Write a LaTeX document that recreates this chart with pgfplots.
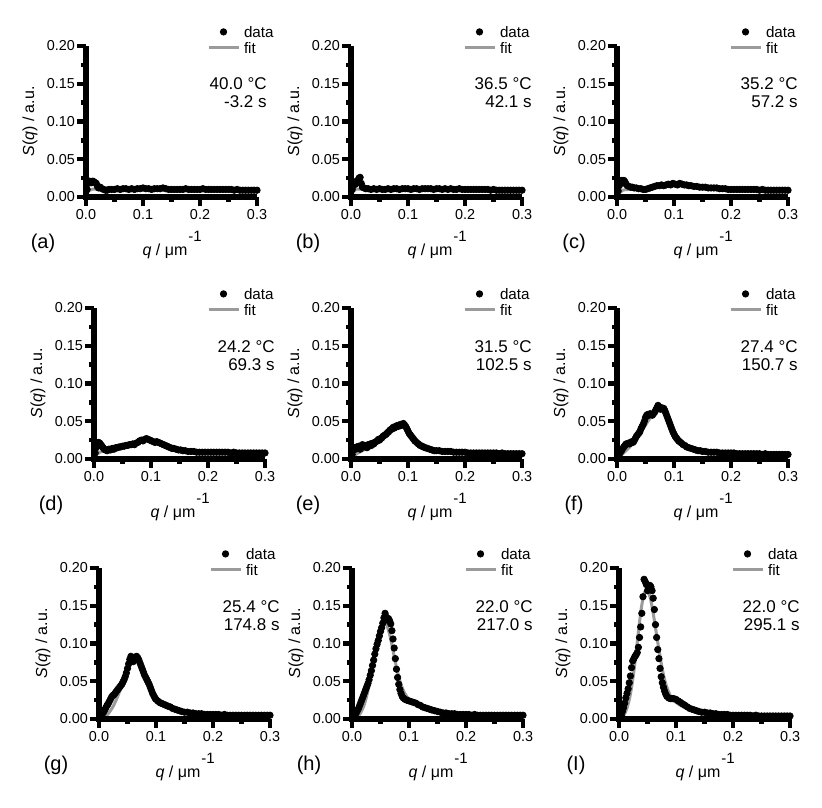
\documentclass[border=0pt]{standalone}
\usepackage{fontspec}
\setmainfont{Liberation Sans}
\usepackage{pgfplots}
\pgfplotsset{compat=1.18}
\definecolor{fitgray}{RGB}{155,155,155}
\pgfplotsset{
  sq/.style={
    scale only axis, width=85.5pt, height=75.5pt,
    xmin=0, xmax=0.3, ymin=0, ymax=0.2,
    axis x line=bottom, axis y line=left,
    axis line style={-, black},
    xtick={0,0.1,0.2,0.3}, ytick={0,0.05,0.1,0.15,0.2},
    minor x tick num=1, minor y tick num=1,
    tick align=outside, major tick length=4.5pt, minor tick length=2.5pt,
    tick style={black},
    /pgf/number format/assume math mode=true,
    tick label style={font=\fontsize{7.2}{8}\selectfont},
    xticklabel style={inner sep=1.5pt, /pgf/number format/.cd, fixed, fixed zerofill, precision=1},
    yticklabel style={inner sep=0.8pt, /pgf/number format/.cd, fixed, fixed zerofill, precision=2},
    scaled ticks=false,
    clip=false,
    reverse legend,
    legend image code/.code={\draw[mark repeat=2,mark phase=2,##1] plot coordinates {(0pt,0pt) (7.5pt,0pt) (15pt,0pt)};},
    legend style={anchor=north east,
      draw=none, fill=none, inner sep=0pt, row sep=1.5pt, column sep=1.5pt,
      font=\fontsize{7.6}{9}\selectfont,
      nodes={inner sep=0.5pt, text height=5.5pt, text depth=0pt},
      cells={anchor=west}},
  },
  fitline/.style={color=fitgray, line width=1.5pt, smooth, tension=0.5, no marks},
  datapts/.style={only marks, mark=*, mark size=1.6pt, black, mark options={draw=black, fill=black}},
  deco/.style={black, forget plot, no marks},
}
\newcommand{\axisdeco}{%
\addplot[deco, line width=3pt, line join=miter] coordinates {(0,0.2) (0,0) (0.3,0)};
\addplot[deco, xcomb, line width=2.2pt] coordinates {(-0.0165,0)(-0.0165,0.05)(-0.0165,0.1)(-0.0165,0.15)(-0.0165,0.2)};
\addplot[deco, xcomb, line width=2.2pt] coordinates {(-0.0095,0.025)(-0.0095,0.075)(-0.0095,0.125)(-0.0095,0.175)};
\addplot[deco, ycomb, line width=2.2pt] coordinates {(0,-0.0125)(0.1,-0.0125)(0.2,-0.0125)(0.3,-0.0125)};
\addplot[deco, ycomb, line width=2.2pt] coordinates {(0.05,-0.0072)(0.15,-0.0072)(0.25,-0.0072)};
}
% #1 position, #2 label, #3 temp, #4 time, #5 data, #6 fit, #7 legend xshift
\newcommand{\panel}[7]{%
\begin{axis}[sq, at={#1}, anchor=south west,
  legend style={at={([xshift=#7,yshift=10.5pt]rel axis cs:1,1)}}]
\addplot[fitline] coordinates {#6};
\addplot[datapts] coordinates {#5};
\axisdeco
\legend{fit,data}
\node[anchor=base east, font=\fontsize{8.5}{10}\selectfont, inner sep=0pt] at ([xshift=5pt,yshift=-22pt]rel axis cs:1,1) {#3};
\node[anchor=base east, font=\fontsize{8.5}{10}\selectfont, inner sep=0pt] at ([xshift=5pt,yshift=-31pt]rel axis cs:1,1) {#4};
\node[anchor=center, font=\fontsize{10}{12}\selectfont, inner sep=0pt] at ([xshift=-21.5pt,yshift=-23pt]rel axis cs:0,0) {#2};
\node[anchor=center, font=\fontsize{8}{10}\selectfont, inner sep=0pt] at ([xshift=39.5pt,yshift=-27pt]rel axis cs:0,0) {\textit{q} / μm};
\node[anchor=center, font=\fontsize{7.5}{9}\selectfont, inner sep=0pt] at ([xshift=54.5pt,yshift=-19.5pt]rel axis cs:0,0) {-1};
\node[anchor=center, rotate=90, font=\fontsize{8}{10}\selectfont, inner sep=0pt] at ([xshift=-28pt]rel axis cs:0,0.5) {\textit{S}(\textit{q}) / a.u.};
\end{axis}}
\begin{document}
\begin{tikzpicture}
\useasboundingbox (0,0) rectangle (411pt,-403.5pt);
% (a)
\panel{(43pt,-98.5pt)}{(a)}{40.0 °C}{-3.2 s}
{(0.002,0.010)(0.004,0.018)(0.006,0.021)(0.008,0.020)(0.010,0.019)(0.012,0.021)(0.014,0.020)(0.016,0.019)(0.018,0.018)(0.020,0.014)(0.022,0.012)(0.025,0.013)(0.028,0.011)(0.031,0.010)(0.034,0.009)(0.037,0.009)(0.040,0.010)
(0.045,0.010)(0.050,0.010)(0.055,0.011)(0.060,0.010)(0.065,0.011)(0.070,0.011)(0.075,0.010)(0.080,0.011)(0.085,0.010)(0.090,0.011)(0.095,0.011)(0.100,0.012)(0.105,0.011)(0.110,0.011)(0.115,0.010)(0.120,0.011)(0.125,0.011)(0.130,0.011)(0.135,0.012)(0.140,0.011)(0.145,0.010)(0.150,0.010)(0.155,0.010)(0.160,0.010)(0.165,0.010)(0.170,0.010)(0.175,0.011)(0.180,0.010)(0.185,0.010)(0.190,0.010)(0.195,0.010)(0.200,0.010)(0.205,0.011)(0.210,0.010)(0.215,0.010)(0.220,0.010)(0.225,0.010)(0.230,0.010)(0.235,0.010)(0.240,0.010)(0.245,0.010)(0.250,0.010)(0.255,0.010)(0.260,0.009)(0.265,0.010)(0.270,0.009)(0.275,0.009)(0.280,0.009)(0.285,0.009)(0.290,0.009)(0.295,0.009)(0.300,0.009)}
{(0,0)(0.003,0.006)(0.006,0.009)(0.010,0.010)(0.020,0.0105)(0.100,0.0105)(0.200,0.010)(0.300,0.0095)}{9pt}
% (b)
\panel{(175.5pt,-98.5pt)}{(b)}{36.5 °C}{42.1 s}
{(0.002,0.010)(0.004,0.015)(0.006,0.020)(0.008,0.017)(0.010,0.019)(0.012,0.022)(0.014,0.025)(0.016,0.026)(0.018,0.018)(0.020,0.013)(0.023,0.012)(0.026,0.011)(0.030,0.011)(0.035,0.010)(0.040,0.011)(0.045,0.010)(0.050,0.011)(0.055,0.010)(0.060,0.010)(0.065,0.011)(0.070,0.010)(0.075,0.011)(0.080,0.011)(0.085,0.010)(0.090,0.011)(0.095,0.011)(0.100,0.011)(0.105,0.010)(0.110,0.011)(0.115,0.011)(0.120,0.010)(0.125,0.011)(0.130,0.011)(0.135,0.011)(0.140,0.011)(0.145,0.010)(0.150,0.011)(0.155,0.011)(0.160,0.010)(0.165,0.011)(0.170,0.010)(0.175,0.011)(0.180,0.010)(0.185,0.010)(0.190,0.011)(0.195,0.010)(0.200,0.010)(0.205,0.010)(0.210,0.010)(0.215,0.010)(0.220,0.010)(0.225,0.010)(0.230,0.010)(0.235,0.010)(0.240,0.010)(0.245,0.009)(0.250,0.010)(0.255,0.009)(0.260,0.009)(0.265,0.009)(0.270,0.009)(0.275,0.009)(0.280,0.009)(0.285,0.009)(0.290,0.009)(0.295,0.009)(0.300,0.009)}
{(0,0)(0.004,0.007)(0.008,0.010)(0.020,0.0105)(0.150,0.010)(0.300,0.0095)}{4.5pt}
% (c)
\panel{(308.5pt,-98.5pt)}{(c)}{35.2 °C}{57.2 s}
{(0.002,0.008)(0.004,0.015)(0.006,0.020)(0.008,0.022)(0.010,0.019)(0.012,0.022)(0.014,0.020)(0.016,0.017)(0.018,0.015)(0.021,0.014)(0.024,0.013)(0.027,0.013)(0.030,0.012)(0.034,0.012)(0.038,0.011)(0.042,0.011)(0.046,0.010)(0.050,0.010)(0.054,0.011)(0.058,0.012)(0.062,0.013)(0.066,0.014)(0.070,0.015)(0.074,0.015)(0.078,0.016)(0.082,0.015)(0.086,0.016)(0.090,0.017)(0.094,0.016)(0.098,0.018)(0.102,0.017)(0.106,0.016)(0.110,0.018)(0.114,0.017)(0.118,0.016)(0.122,0.016)(0.126,0.015)(0.130,0.015)(0.135,0.014)(0.140,0.014)(0.145,0.013)(0.150,0.013)(0.155,0.013)(0.160,0.012)(0.165,0.012)(0.170,0.012)(0.175,0.012)(0.180,0.011)(0.185,0.011)(0.190,0.011)(0.195,0.010)(0.200,0.010)(0.205,0.010)(0.210,0.010)(0.215,0.010)(0.220,0.010)(0.225,0.010)(0.230,0.010)(0.235,0.010)(0.240,0.010)(0.245,0.010)(0.250,0.009)(0.255,0.010)(0.260,0.009)(0.265,0.009)(0.270,0.009)(0.275,0.009)(0.280,0.009)(0.285,0.009)(0.290,0.009)(0.295,0.009)(0.300,0.009)}
{(0,0)(0.005,0.006)(0.010,0.009)(0.020,0.010)(0.040,0.011)(0.070,0.013)(0.100,0.015)(0.120,0.015)(0.150,0.013)(0.200,0.010)(0.300,0.009)}{4.5pt}
% (d)
\panel{(47pt,-229.5pt)}{(d)}{24.2 °C}{69.3 s}
{(0.002,0.008)(0.004,0.015)(0.006,0.020)(0.008,0.022)(0.010,0.021)(0.012,0.019)(0.014,0.017)(0.016,0.015)(0.018,0.013)(0.020,0.012)(0.023,0.011)(0.026,0.013)(0.029,0.012)(0.032,0.014)(0.035,0.013)(0.038,0.015)(0.041,0.015)(0.044,0.016)(0.047,0.016)(0.050,0.017)(0.053,0.017)(0.056,0.018)(0.059,0.018)(0.062,0.019)(0.065,0.019)(0.068,0.020)(0.071,0.019)(0.074,0.021)(0.077,0.022)(0.080,0.024)(0.083,0.025)(0.086,0.024)(0.089,0.026)(0.092,0.027)(0.095,0.026)(0.098,0.025)(0.101,0.024)(0.104,0.023)(0.107,0.022)(0.110,0.023)(0.113,0.022)(0.116,0.021)(0.119,0.020)(0.122,0.019)(0.125,0.018)(0.128,0.017)(0.131,0.016)(0.134,0.015)(0.137,0.014)(0.140,0.014)(0.144,0.013)(0.148,0.012)(0.152,0.012)(0.156,0.011)(0.160,0.011)(0.165,0.010)(0.170,0.010)(0.175,0.010)(0.180,0.009)(0.185,0.009)(0.190,0.009)(0.195,0.009)(0.200,0.009)(0.205,0.009)(0.210,0.009)(0.215,0.009)(0.220,0.009)(0.225,0.009)(0.230,0.009)(0.235,0.009)(0.240,0.008)(0.245,0.009)(0.250,0.008)(0.255,0.008)(0.260,0.008)(0.265,0.008)(0.270,0.008)(0.275,0.008)(0.280,0.008)(0.285,0.008)(0.290,0.008)(0.295,0.008)(0.300,0.008)}
{(0,0)(0.005,0.006)(0.010,0.009)(0.020,0.011)(0.040,0.015)(0.060,0.019)(0.080,0.023)(0.090,0.025)(0.100,0.024)(0.120,0.019)(0.140,0.014)(0.160,0.011)(0.200,0.009)(0.300,0.008)}{5pt}
% (e)
\panel{(175.5pt,-229.5pt)}{(e)}{31.5 °C}{102.5 s}
{(0.002,0.006)(0.004,0.012)(0.006,0.015)(0.008,0.013)(0.010,0.016)(0.012,0.014)(0.014,0.017)(0.016,0.013)(0.018,0.015)(0.020,0.019)(0.022,0.016)(0.024,0.018)(0.026,0.017)(0.028,0.015)(0.030,0.019)(0.032,0.017)(0.034,0.020)(0.036,0.018)(0.038,0.021)(0.040,0.020)(0.042,0.022)(0.044,0.023)(0.046,0.024)(0.048,0.026)(0.050,0.025)(0.052,0.027)(0.054,0.028)(0.056,0.030)(0.058,0.031)(0.060,0.032)(0.062,0.033)(0.064,0.035)(0.066,0.036)(0.068,0.038)(0.070,0.039)(0.072,0.040)(0.074,0.042)(0.076,0.041)(0.078,0.043)(0.080,0.044)(0.082,0.043)(0.084,0.045)(0.086,0.044)(0.088,0.046)(0.090,0.045)(0.092,0.047)(0.094,0.045)(0.096,0.043)(0.098,0.040)(0.100,0.037)(0.102,0.034)(0.104,0.032)(0.106,0.030)(0.108,0.028)(0.110,0.026)(0.112,0.024)(0.115,0.022)(0.118,0.020)(0.121,0.018)(0.124,0.017)(0.127,0.016)(0.130,0.015)(0.134,0.014)(0.138,0.013)(0.142,0.012)(0.146,0.011)(0.150,0.011)(0.155,0.011)(0.160,0.010)(0.165,0.010)(0.170,0.010)(0.175,0.010)(0.180,0.009)(0.185,0.009)(0.190,0.009)(0.195,0.009)(0.200,0.009)(0.205,0.008)(0.210,0.008)(0.215,0.008)(0.220,0.008)(0.225,0.008)(0.230,0.008)(0.235,0.008)(0.240,0.008)(0.245,0.008)(0.250,0.008)(0.255,0.008)(0.260,0.007)(0.265,0.008)(0.270,0.007)(0.275,0.007)(0.280,0.007)(0.285,0.007)(0.290,0.007)(0.295,0.007)(0.300,0.007)}
{(0,0)(0.005,0.004)(0.010,0.007)(0.020,0.011)(0.030,0.015)(0.040,0.020)(0.050,0.025)(0.060,0.031)(0.070,0.037)(0.080,0.042)(0.088,0.043)(0.095,0.041)(0.100,0.038)(0.110,0.029)(0.120,0.022)(0.130,0.018)(0.140,0.015)(0.150,0.013)(0.170,0.011)(0.200,0.009)(0.250,0.008)(0.300,0.007)}{4.5pt}
% (f)
\panel{(308.5pt,-229.5pt)}{(f)}{27.4 °C}{150.7 s}
{(0.002,0.003)(0.004,0.006)(0.006,0.009)(0.008,0.011)(0.010,0.014)(0.012,0.016)(0.014,0.018)(0.016,0.020)(0.018,0.020)(0.020,0.021)(0.022,0.020)(0.024,0.022)(0.026,0.023)(0.028,0.022)(0.030,0.024)(0.032,0.027)(0.034,0.030)(0.036,0.032)(0.038,0.034)(0.040,0.036)(0.042,0.040)(0.044,0.043)(0.046,0.046)(0.048,0.050)(0.050,0.055)(0.052,0.058)(0.054,0.059)(0.056,0.058)(0.058,0.060)(0.060,0.059)(0.062,0.058)(0.064,0.060)(0.066,0.062)(0.068,0.065)(0.070,0.068)(0.072,0.071)(0.074,0.069)(0.076,0.066)(0.078,0.068)(0.080,0.066)(0.082,0.067)(0.084,0.064)(0.086,0.060)(0.088,0.056)(0.090,0.052)(0.092,0.048)(0.094,0.044)(0.096,0.040)(0.098,0.036)(0.100,0.033)(0.102,0.030)(0.104,0.028)(0.106,0.026)(0.108,0.024)(0.110,0.023)(0.113,0.021)(0.116,0.019)(0.119,0.018)(0.122,0.016)(0.126,0.015)(0.130,0.014)(0.134,0.013)(0.138,0.012)(0.142,0.011)(0.146,0.011)(0.150,0.010)(0.155,0.010)(0.160,0.009)(0.165,0.009)(0.170,0.009)(0.175,0.009)(0.180,0.008)(0.185,0.008)(0.190,0.008)(0.195,0.008)(0.200,0.008)(0.205,0.008)(0.210,0.007)(0.215,0.007)(0.220,0.007)(0.225,0.007)(0.230,0.007)(0.235,0.007)(0.240,0.007)(0.245,0.007)(0.250,0.007)(0.255,0.006)(0.260,0.007)(0.265,0.006)(0.270,0.006)(0.275,0.006)(0.280,0.006)(0.285,0.006)(0.290,0.006)(0.295,0.006)(0.300,0.006)}
{(0,0)(0.005,0.003)(0.010,0.007)(0.020,0.014)(0.030,0.023)(0.040,0.033)(0.050,0.045)(0.060,0.056)(0.070,0.064)(0.075,0.065)(0.080,0.063)(0.085,0.058)(0.090,0.050)(0.100,0.036)(0.110,0.026)(0.120,0.019)(0.130,0.015)(0.140,0.012)(0.160,0.010)(0.200,0.008)(0.250,0.007)(0.300,0.006)}{4.5pt}
% (g)
\panel{(49.5pt,-359.5pt)}{(g)}{25.4 °C}{174.8 s}
{(0.002,0.002)(0.004,0.004)(0.006,0.007)(0.008,0.009)(0.010,0.012)(0.012,0.015)(0.014,0.018)(0.016,0.020)(0.018,0.023)(0.020,0.026)(0.022,0.029)(0.024,0.031)(0.026,0.032)(0.028,0.034)(0.030,0.036)(0.032,0.038)(0.034,0.040)(0.036,0.042)(0.038,0.044)(0.040,0.046)(0.042,0.049)(0.044,0.052)(0.046,0.056)(0.048,0.061)(0.050,0.067)(0.052,0.073)(0.054,0.079)(0.056,0.083)(0.058,0.080)(0.060,0.076)(0.062,0.079)(0.064,0.082)(0.066,0.083)(0.068,0.081)(0.070,0.078)(0.072,0.074)(0.074,0.070)(0.076,0.066)(0.078,0.062)(0.080,0.058)(0.082,0.055)(0.084,0.052)(0.086,0.049)(0.088,0.046)(0.090,0.042)(0.092,0.038)(0.094,0.034)(0.096,0.031)(0.098,0.028)(0.100,0.026)(0.103,0.024)(0.106,0.022)(0.109,0.021)(0.112,0.020)(0.115,0.019)(0.118,0.018)(0.121,0.017)(0.125,0.016)(0.129,0.014)(0.133,0.013)(0.137,0.012)(0.141,0.011)(0.145,0.010)(0.150,0.009)(0.155,0.009)(0.160,0.008)(0.165,0.008)(0.170,0.007)(0.175,0.007)(0.180,0.007)(0.185,0.006)(0.190,0.006)(0.195,0.006)(0.200,0.006)(0.205,0.006)(0.210,0.006)(0.215,0.005)(0.220,0.006)(0.225,0.005)(0.230,0.005)(0.235,0.005)(0.240,0.005)(0.245,0.005)(0.250,0.005)(0.255,0.005)(0.260,0.005)(0.265,0.005)(0.270,0.005)(0.275,0.005)(0.280,0.005)(0.285,0.005)(0.290,0.005)(0.295,0.005)(0.300,0.005)}
{(0,0)(0.005,0.001)(0.010,0.003)(0.015,0.006)(0.020,0.011)(0.025,0.017)(0.030,0.025)(0.035,0.034)(0.040,0.044)(0.045,0.055)(0.050,0.066)(0.055,0.075)(0.060,0.079)(0.065,0.079)(0.070,0.074)(0.075,0.066)(0.080,0.057)(0.085,0.048)(0.090,0.040)(0.095,0.033)(0.100,0.028)(0.110,0.021)(0.120,0.017)(0.130,0.014)(0.140,0.012)(0.150,0.010)(0.170,0.008)(0.200,0.006)(0.250,0.005)(0.300,0.004)}{3.5pt}
% (h)
\panel{(176pt,-359.5pt)}{(h)}{22.0 °C}{217.0 s}
{(0.002,0.002)(0.004,0.004)(0.006,0.006)(0.008,0.009)(0.010,0.012)(0.012,0.015)(0.014,0.019)(0.016,0.023)(0.018,0.027)(0.020,0.031)(0.022,0.035)(0.024,0.039)(0.026,0.043)(0.028,0.047)(0.030,0.052)(0.032,0.058)(0.034,0.064)(0.036,0.071)(0.038,0.078)(0.040,0.086)(0.042,0.093)(0.044,0.099)(0.046,0.104)(0.048,0.110)(0.050,0.116)(0.052,0.121)(0.054,0.127)(0.056,0.134)(0.058,0.140)(0.060,0.135)(0.062,0.131)(0.064,0.133)(0.066,0.130)(0.068,0.126)(0.070,0.117)(0.072,0.106)(0.074,0.094)(0.076,0.080)(0.078,0.066)(0.080,0.055)(0.082,0.046)(0.084,0.039)(0.086,0.034)(0.088,0.030)(0.090,0.028)(0.093,0.026)(0.096,0.025)(0.100,0.024)(0.104,0.023)(0.108,0.022)(0.112,0.021)(0.116,0.019)(0.120,0.018)(0.124,0.016)(0.128,0.015)(0.132,0.014)(0.136,0.013)(0.140,0.012)(0.145,0.011)(0.150,0.010)(0.155,0.009)(0.160,0.008)(0.165,0.008)(0.170,0.007)(0.175,0.007)(0.180,0.007)(0.185,0.006)(0.190,0.006)(0.195,0.006)(0.200,0.006)(0.205,0.006)(0.210,0.005)(0.215,0.006)(0.220,0.005)(0.225,0.005)(0.230,0.005)(0.235,0.005)(0.240,0.005)(0.245,0.005)(0.250,0.005)(0.255,0.005)(0.260,0.005)(0.265,0.005)(0.270,0.005)(0.275,0.005)(0.280,0.005)(0.285,0.005)(0.290,0.005)(0.295,0.005)(0.300,0.005)}
{(0,0)(0.005,0.001)(0.010,0.003)(0.015,0.008)(0.020,0.016)(0.025,0.028)(0.030,0.045)(0.035,0.066)(0.040,0.088)(0.045,0.107)(0.050,0.121)(0.055,0.128)(0.060,0.126)(0.065,0.115)(0.070,0.098)(0.075,0.079)(0.080,0.062)(0.085,0.048)(0.090,0.038)(0.095,0.031)(0.100,0.026)(0.110,0.020)(0.120,0.016)(0.130,0.013)(0.140,0.011)(0.150,0.009)(0.170,0.007)(0.200,0.005)(0.250,0.004)(0.300,0.004)}{4.5pt}
% (I)
\panel{(309.5pt,-359.5pt)}{(I)}{22.0 °C}{295.1 s}
{(0.002,0.002)(0.004,0.005)(0.006,0.010)(0.008,0.015)(0.010,0.021)(0.012,0.028)(0.014,0.034)(0.016,0.040)(0.018,0.048)(0.020,0.057)(0.022,0.068)(0.024,0.077)(0.026,0.080)(0.028,0.083)(0.030,0.085)(0.032,0.088)(0.034,0.095)(0.036,0.108)(0.038,0.122)(0.040,0.140)(0.042,0.162)(0.044,0.185)(0.046,0.182)(0.048,0.178)(0.050,0.170)(0.052,0.175)(0.054,0.177)(0.056,0.175)(0.058,0.170)(0.060,0.160)(0.062,0.145)(0.064,0.125)(0.066,0.108)(0.068,0.092)(0.070,0.080)(0.072,0.067)(0.074,0.056)(0.076,0.048)(0.078,0.042)(0.080,0.037)(0.082,0.033)(0.084,0.030)(0.087,0.028)(0.090,0.027)(0.093,0.027)(0.096,0.027)(0.100,0.026)(0.104,0.024)(0.108,0.022)(0.112,0.020)(0.116,0.018)(0.120,0.016)(0.124,0.014)(0.128,0.013)(0.132,0.012)(0.136,0.011)(0.140,0.010)(0.145,0.009)(0.150,0.009)(0.155,0.008)(0.160,0.008)(0.165,0.007)(0.170,0.007)(0.175,0.006)(0.180,0.006)(0.185,0.006)(0.190,0.006)(0.195,0.005)(0.200,0.005)(0.205,0.005)(0.210,0.005)(0.215,0.005)(0.220,0.005)(0.225,0.005)(0.230,0.005)(0.235,0.004)(0.240,0.005)(0.245,0.004)(0.250,0.004)(0.255,0.004)(0.260,0.004)(0.265,0.004)(0.270,0.004)(0.275,0.004)(0.280,0.004)(0.285,0.004)(0.290,0.004)(0.295,0.004)(0.300,0.004)}
{(0,0)(0.005,0.002)(0.010,0.007)(0.015,0.017)(0.020,0.033)(0.025,0.057)(0.030,0.088)(0.035,0.122)(0.040,0.151)(0.045,0.168)(0.050,0.170)(0.055,0.160)(0.060,0.140)(0.065,0.116)(0.070,0.092)(0.075,0.070)(0.080,0.052)(0.085,0.040)(0.090,0.031)(0.095,0.026)(0.100,0.022)(0.110,0.017)(0.120,0.014)(0.130,0.011)(0.140,0.009)(0.160,0.007)(0.200,0.005)(0.250,0.004)(0.300,0.004)}{4.5pt}
\end{tikzpicture}
\end{document}
